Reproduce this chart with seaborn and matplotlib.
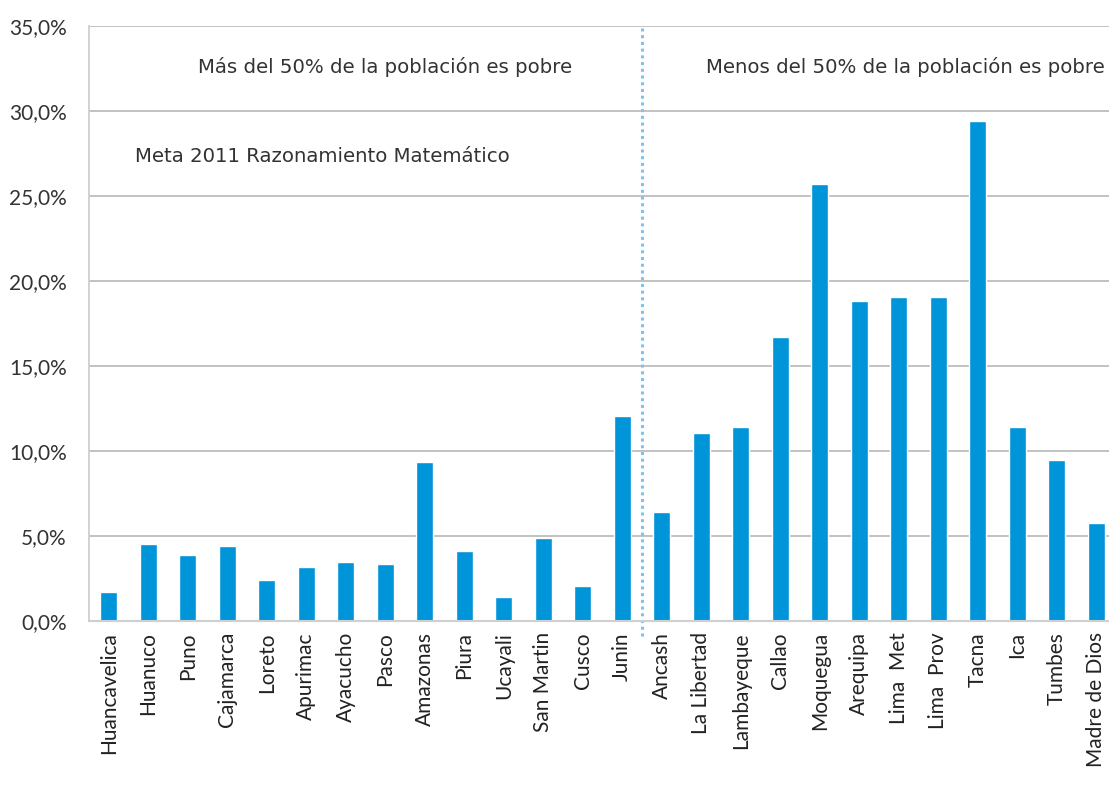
import matplotlib
matplotlib.use("Agg")
import matplotlib.pyplot as plt
import seaborn as sns
import pandas as pd
from matplotlib.ticker import FuncFormatter, MultipleLocator

regions = ["Huancavelica", "Huanuco", "Puno", "Cajamarca", "Loreto", "Apurimac",
           "Ayacucho", "Pasco", "Amazonas", "Piura", "Ucayali", "San Martin",
           "Cusco", "Junin", "Ancash", "La Libertad", "Lambayeque", "Callao",
           "Moquegua", "Arequipa", "Lima  Met", "Lima  Prov", "Tacna", "Ica",
           "Tumbes", "Madre de Dios"]
values = [1.7, 4.55, 3.9, 4.43, 2.44, 3.2, 3.5, 3.38, 9.36, 4.14, 1.39, 4.9,
          2.03, 12.05, 6.42, 11.08, 11.42, 16.72, 25.7, 18.85, 19.08, 19.08,
          29.43, 11.42, 9.49, 5.77]
label_left = "Más del 50% de la población es pobre"
label_right = "Menos del 50% de la población es pobre"
label_meta = "Meta 2011 Razonamiento Matemático"

df = pd.DataFrame({"region": regions, "valor": values})

sns.set_style("white")
plt.rcParams["font.family"] = ["Lato", "DejaVu Sans"]

fig = plt.figure(figsize=(11.09, 7.90), dpi=100)
ax = fig.add_axes([89 / 1109, 1 - 621 / 790, 1027 / 1109, (621 - 26) / 790])

sns.barplot(data=df, x="region", y="valor", order=regions, color="#0095D9",
            saturation=1, width=0.43, ax=ax)

ax.set_xlim(-0.5, len(regions) - 0.5)
ax.set_ylim(0, 35)
ax.yaxis.set_major_locator(MultipleLocator(5))
ax.yaxis.set_major_formatter(FuncFormatter(lambda v, p: f"{v:.1f}%".replace(".", ",")))
ax.grid(axis="y", color="#bdbdbd", linewidth=1.3)
ax.set_axisbelow(True)
ax.set_xlabel("")
ax.set_ylabel("")
for s in ["top", "right"]:
    ax.spines[s].set_visible(False)
ax.spines["left"].set_color("#cfcfcf")
ax.spines["left"].set_linewidth(1.3)
ax.spines["bottom"].set_color("#cfcfcf")
ax.spines["bottom"].set_linewidth(1.5)
ax.tick_params(axis="y", labelsize=15, colors="#333333", length=0, pad=16)
ax.tick_params(axis="x", labelsize=15, colors="#222222", length=0, pad=8,
               labelrotation=90)

ax.plot([13.5, 13.5], [-0.9, 35], linestyle=(0, (1, 1.2)), color="#7cc4ef",
        linewidth=2.2, clip_on=False)

ann = dict(fontsize=14.2, color="#333333", family=["DejaVu Sans"])
ax.text(7.0, 32.6, label_left, ha="center", va="center", **ann)
ax.text(15.13, 32.6, label_right, ha="left", va="center", **ann)
ax.text(0.67, 27.3, label_meta, ha="left", va="center", **ann)

fig.savefig("out.png", dpi=100)
